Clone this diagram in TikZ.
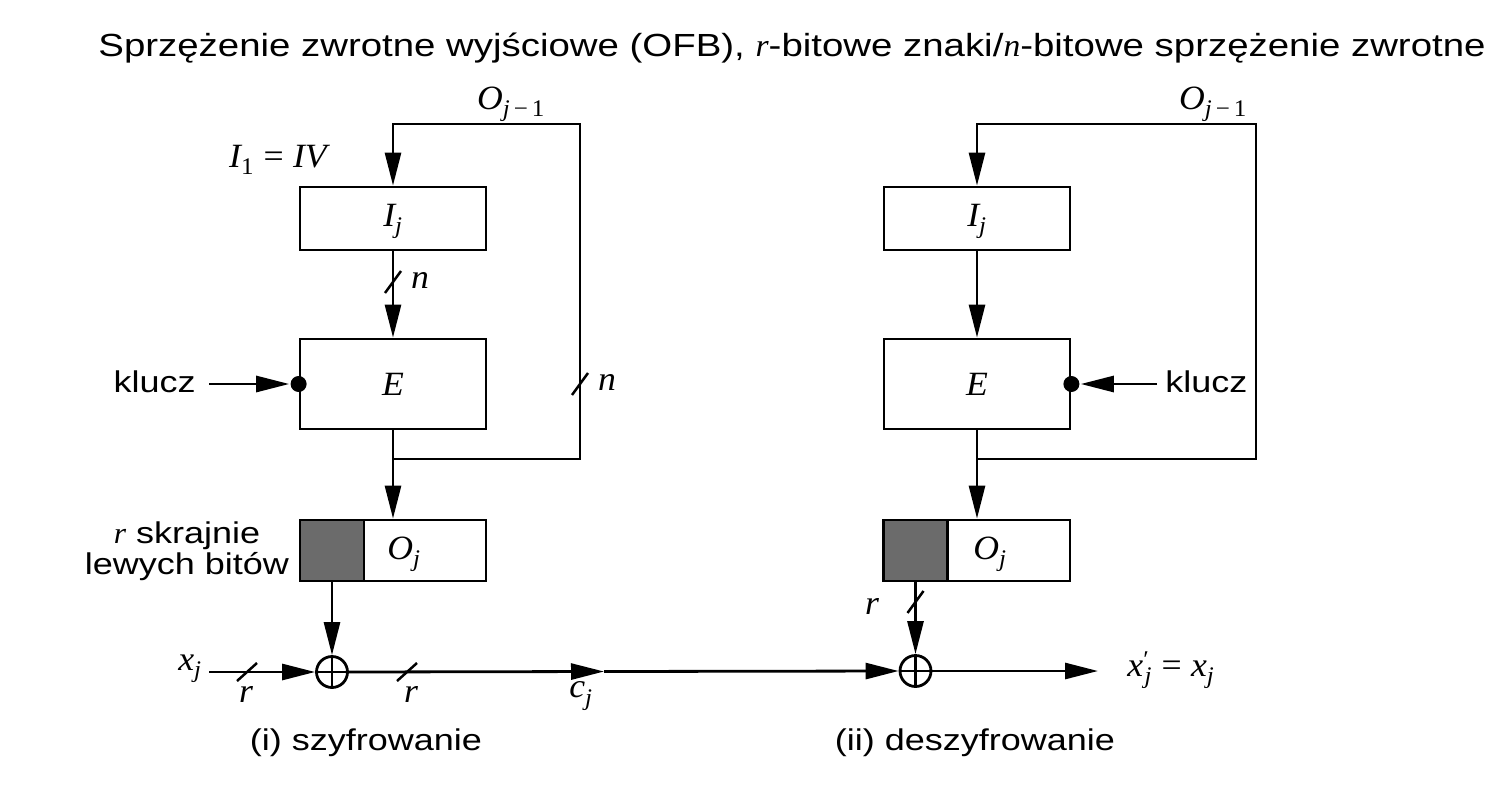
\documentclass[tikz,border=0pt]{standalone}
\usepackage{fontspec}
\setmainfont{Liberation Sans}[FakeStretch=1.2]
\newfontfamily\tms{Liberation Serif}[FakeStretch=1.05]
\usetikzlibrary{arrows.meta}
\newcommand\mi[1]{{\tms\itshape #1}}
\newcommand\rmx[1]{{\tms #1}}
\begin{document}
\begin{tikzpicture}[x=1pt,y=-1pt,line width=2.8pt,
  arr/.style={-{Triangle[length=33pt,width=16pt]}},
  blk/.style={draw,minimum width=186pt,inner sep=0pt,line width=2.8pt},
  shd/.style={draw,fill=black!58,minimum width=64pt,minimum height=61pt,inner sep=0pt},
  xor/.style={circle,draw,minimum size=31pt,inner sep=0pt},
  dot/.style={circle,fill,minimum size=16pt,inner sep=0pt},
  lbl/.style={inner sep=0pt,font=\fontsize{34}{38}\selectfont},
  txt/.style={inner sep=0pt,font=\fontsize{30}{34}\selectfont},
  tick/.style={line width=2.5pt}]
\useasboundingbox (0,0) rectangle (1509,787);
\fill[white] (0,0) rectangle (1509,787);

% title
\node[inner sep=0pt,font=\fontsize{32}{36}\selectfont,anchor=base] (title) at (792,56)
  {Sprzężenie zwrotne wyjściowe (OFB), \mi{r}-bitowe znaki/\mi{n}-bitowe sprzężenie zwrotne};

% ---------- left: encryption ----------
\node[blk,minimum height=63pt] (Ij1) at (393,218.5) {};
\node[lbl] (Ij1l) at (393,221) {\mi{I}\textsubscript{\mi{j}}};
\node[blk,minimum height=90pt] (E1) at (393,384) {};
\node[lbl] (E1l) at (393,384) {\mi{E}};
\node[blk,minimum height=61pt] (Oj1) at (393,550.5) {};
\node[shd] (S1) at (332,550.5) {};
\node[lbl] (Oj1l) at (404,554) {\mi{O}\textsubscript{\mi{j}}};

\node[lbl] (iv) at (278,160) {\mi{I}\textsubscript{\rmx{1}}\;\rmx{=}\;\mi{IV}};
\node[lbl] (o1l) at (511,104) {\mi{O}\textsubscript{\mi{j}\,\rmx{−}\,\rmx{1}}};

\coordinate (b1) at (393,459);
\coordinate (c1) at (580,459);
\coordinate (c2) at (580,124);
\coordinate (c3) at (393,124);
\draw[arr] (E1.south) -- (Oj1.north);
\draw[arr] (b1) -- (c1) -- (c2) -- (c3) -- (Ij1.north);
\draw[arr] (Ij1.south) -- (E1.north);

\coordinate (t1) at (393,282);
\draw[tick] ([shift={(-8,11)}]t1) -- ([shift={(8,-11)}]t1);
\node[lbl] (n1) at (420,280) {\mi{n}};
\coordinate (t2) at (580,384);
\draw[tick] ([shift={(-8,11)}]t2) -- ([shift={(8,-11)}]t2);
\node[lbl] (n2) at (607,382) {\mi{n}};

\node[txt,anchor=east] (k1) at (197,382) {klucz};
\coordinate (ks1) at (209,384);
\node[dot] (d1) at (E1.west) {};
\draw[arr] (ks1) -- (d1.west);

\node[txt,align=center] (rl) at (187,551) {\mi{r} skrajnie\\[-3pt]lewych bitów};

\node[xor] (X1) at (332,672) {};
\draw (X1.north) -- (X1.south) (X1.west) -- (X1.east);
\draw[arr] (S1.south) -- (X1.north);

\node[lbl] (xj) at (190,669) {\mi{x}\textsubscript{\mi{j}}};
\coordinate (xs) at (209,672);
\draw[arr] (xs) -- (X1.west);
\coordinate (t3) at (247,672);
\draw[tick] ([shift={(-10,9)}]t3) -- ([shift={(10,-9)}]t3);
\node[lbl] (r1) at (246,694) {\mi{r}};
\coordinate (t4) at (407,672);
\draw[tick] ([shift={(-10,9)}]t4) -- ([shift={(10,-9)}]t4);
\node[lbl] (r2) at (411,694) {\mi{r}};

\node[xor] (X2) at (915.5,671) {};
\draw (X2.north) -- (X2.south) (X2.west) -- (X2.east);
\coordinate (m) at (604,671.5);
\draw[arr] (X1.east) -- (m);
\draw[arr] (m) -- (X2.west);
\node[lbl] (cj) at (581,696) {\mi{c}\textsubscript{\mi{j}}};

\node[txt] (enc) at (366,743) {(i) szyfrowanie};

% ---------- right: decryption ----------
\node[blk,minimum height=63pt] (Ij2) at (977,218.5) {};
\node[lbl] (Ij2l) at (977,221) {\mi{I}\textsubscript{\mi{j}}};
\node[blk,minimum height=90pt] (E2) at (977,384) {};
\node[lbl] (E2l) at (977,384) {\mi{E}};
\node[blk,minimum height=61pt] (Oj2) at (977,550.5) {};
\node[shd] (S2) at (915.5,550.5) {};
\node[lbl] (Oj2l) at (990,554) {\mi{O}\textsubscript{\mi{j}}};

\node[lbl] (o2l) at (1213,104) {\mi{O}\textsubscript{\mi{j}\,\rmx{−}\,\rmx{1}}};

\coordinate (b2) at (977,459);
\coordinate (e1) at (1256,459);
\coordinate (e2) at (1256,124);
\coordinate (e3) at (977,124);
\draw[arr] (E2.south) -- (Oj2.north);
\draw[arr] (b2) -- (e1) -- (e2) -- (e3) -- (Ij2.north);
\draw[arr] (Ij2.south) -- (E2.north);

\node[txt,anchor=west] (k2) at (1164,382) {klucz};
\coordinate (ks2) at (1157,384);
\node[dot] (d2) at (E2.east) {};
\draw[arr] (ks2) -- (d2.east);

\draw[arr] (S2.south) -- (X2.north);
\coordinate (t5) at (915.5,602);
\draw[tick] ([shift={(-8,11)}]t5) -- ([shift={(8,-11)}]t5);
\node[lbl] (r3) at (872,606) {\mi{r}};

\coordinate (out) at (1098,671);
\draw[arr] (X2.east) -- (out);
\node[lbl,anchor=west] (xo) at (1126,670) {\mi{x}\raisebox{0.5ex}{\fontsize{24}{24}\selectfont\rmx{′}}\kern-0.12em\textsubscript{\mi{j}}\;\rmx{=}\;\mi{x}\textsubscript{\mi{j}}};

\node[txt] (dec) at (975,743) {(ii) deszyfrowanie};
\end{tikzpicture}
\end{document}
